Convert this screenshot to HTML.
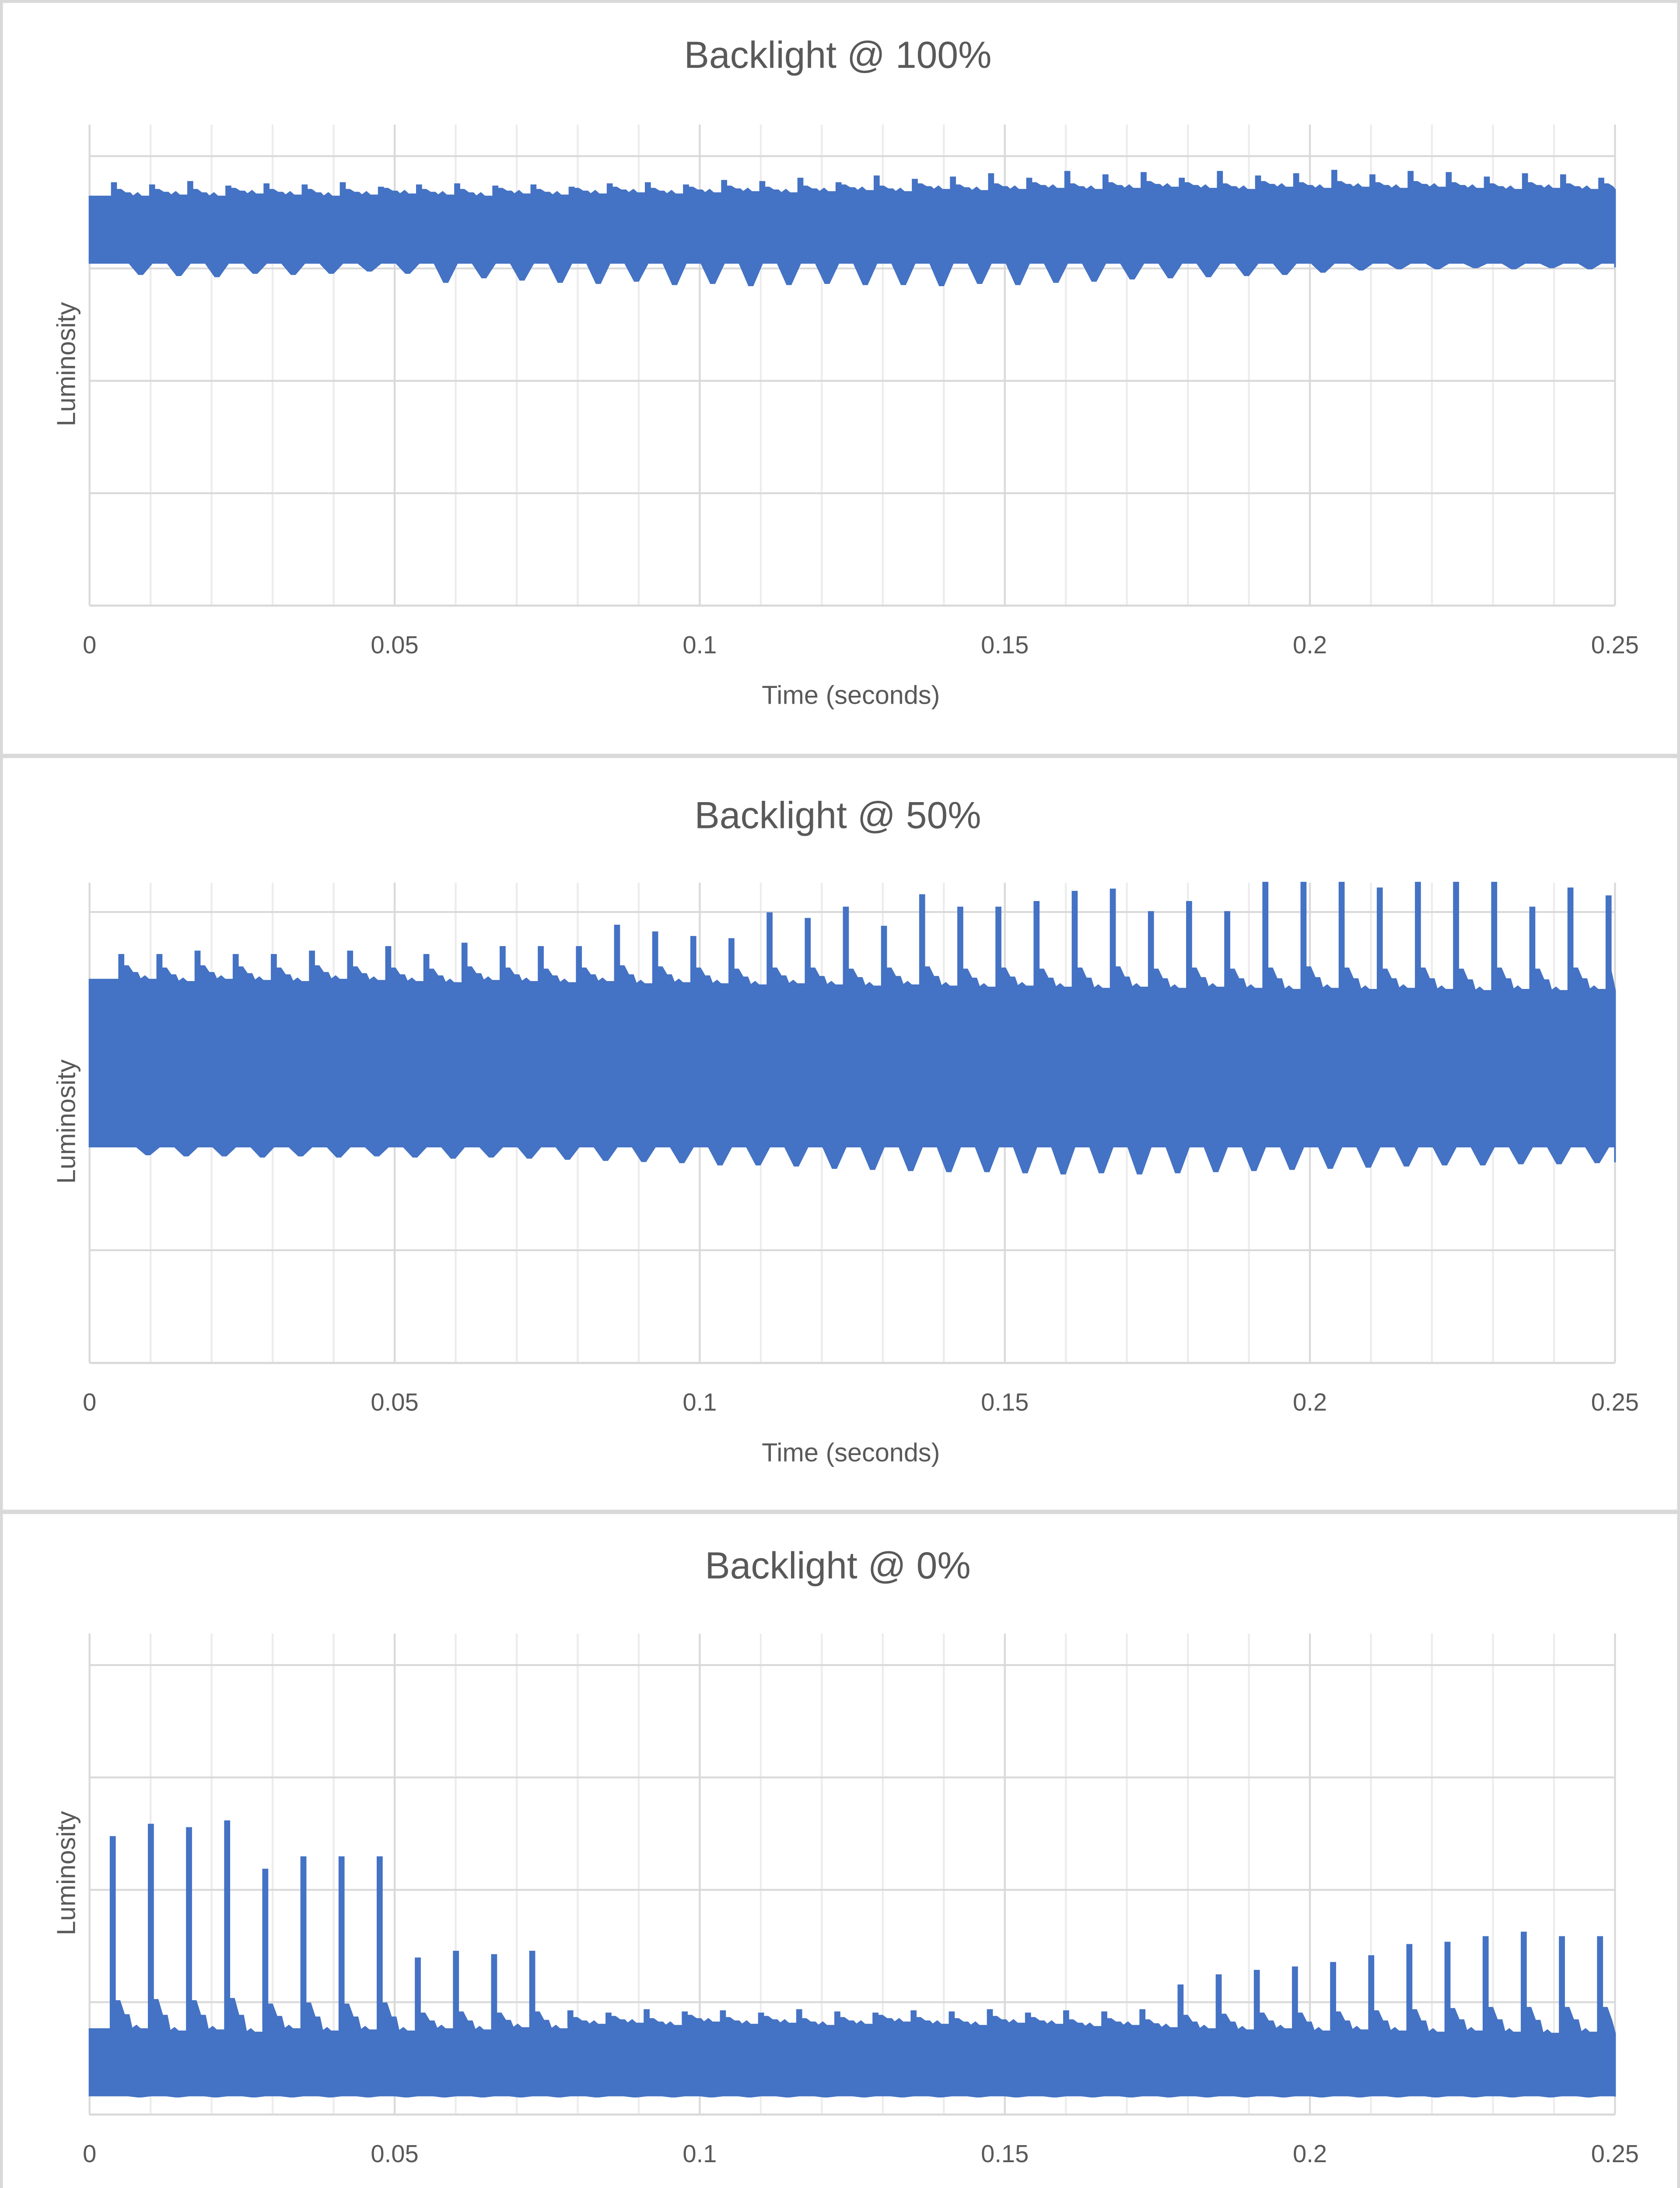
<!DOCTYPE html>
<html><head><meta charset="utf-8"><style>
html,body{margin:0;padding:0;background:#fff;width:3840px;height:5179px;overflow:hidden;}
svg{display:block;position:absolute;left:0;top:0;width:3840px;height:5179px;}
text{font-family:"Liberation Sans",sans-serif;fill:#595959;}
</style></head><body>
<svg id="chart" width="3840" height="5179" viewBox="0 0 1163 1568" preserveAspectRatio="none" xmlns="http://www.w3.org/2000/svg"></svg>
<script>
// shared timing (seconds)
const xTicks = [0, 0.05, 0.1, 0.15, 0.2, 0.25];
const xTickLabels = ["0", "0.05", "0.1", "0.15", "0.2", "0.25"];
const cyclePeriod = 0.00625;
const cycleCount = 40;

// Chart 1 : Backlight @ 100%
const phase1 = 0.004;
const base1 = 3.05;
const spike1 = [3.76,3.74,3.77,3.73,3.75,3.74,3.76,3.72,3.74,3.75,3.73,3.74,3.72,3.75,3.76,3.74,3.78,3.77,3.80,3.76,3.82,3.79,3.81,3.84,3.80,3.86,3.83,3.85,3.80,3.86,3.82,3.84,3.87,3.83,3.86,3.85,3.81,3.84,3.83,3.80];
const top1 = [3.64,3.65,3.64,3.66,3.65,3.64,3.65,3.66,3.65,3.64,3.66,3.65,3.66,3.67,3.66,3.67,3.68,3.67,3.68,3.69,3.68,3.70,3.69,3.70,3.71,3.70,3.71,3.72,3.71,3.70,3.72,3.71,3.72,3.71,3.72,3.71,3.70,3.71,3.70,3.70];
const hump1 = [3.70,3.70,3.70,3.71,3.70,3.70,3.70,3.71,3.70,3.70,3.71,3.70,3.71,3.72,3.71,3.72,3.73,3.72,3.73,3.74,3.73,3.75,3.74,3.75,3.76,3.75,3.76,3.77,3.76,3.75,3.77,3.76,3.77,3.76,3.77,3.76,3.75,3.76,3.75,3.75];
const dip1 = [2.95,2.94,2.93,2.96,2.95,2.96,2.98,2.96,2.88,2.92,2.90,2.88,2.87,2.89,2.86,2.87,2.85,2.86,2.87,2.86,2.86,2.85,2.87,2.86,2.88,2.89,2.91,2.92,2.93,2.94,2.95,2.97,2.99,3.00,3.00,3.01,3.00,3.01,3.00,3.01];

// Chart 2 : Backlight @ 50%
const phase2 = 0.0052;
const base2 = 1.92;
const spike2 = [3.62,3.62,3.65,3.62,3.62,3.65,3.65,3.69,3.62,3.72,3.69,3.69,3.69,3.88,3.82,3.78,3.76,3.99,3.94,4.04,3.87,4.15,4.04,4.04,4.09,4.18,4.20,4.00,4.09,4.00,4.26,4.26,4.26,4.21,4.26,4.26,4.26,4.04,4.21,4.14];
const top2 = [3.40,3.38,3.40,3.39,3.38,3.40,3.39,3.38,3.37,3.39,3.38,3.37,3.38,3.36,3.37,3.36,3.35,3.36,3.35,3.34,3.35,3.34,3.33,3.34,3.33,3.32,3.33,3.32,3.33,3.32,3.31,3.32,3.31,3.32,3.31,3.30,3.31,3.30,3.31,3.30];
const hump2 = [3.52,3.50,3.52,3.51,3.50,3.52,3.51,3.50,3.49,3.51,3.50,3.49,3.50,3.52,3.51,3.50,3.49,3.50,3.50,3.49,3.50,3.51,3.49,3.50,3.49,3.50,3.51,3.49,3.50,3.49,3.50,3.51,3.50,3.49,3.50,3.49,3.50,3.49,3.50,3.48];
const dip2 = [1.85,1.84,1.84,1.83,1.84,1.83,1.84,1.83,1.82,1.83,1.82,1.81,1.80,1.79,1.78,1.76,1.76,1.75,1.73,1.72,1.71,1.70,1.70,1.69,1.68,1.69,1.68,1.69,1.70,1.71,1.72,1.73,1.74,1.75,1.76,1.76,1.77,1.77,1.78,1.78];

// Chart 3 : Backlight @ 0%
const phase3 = 0.0038;
const base3 = 0.17;
const spike3 = [2.47,2.58,2.55,2.61,2.18,2.29,2.29,2.29,1.39,1.45,1.42,1.45,0.92,0.90,0.93,0.91,0.92,0.90,0.93,0.91,0.90,0.92,0.91,0.93,0.90,0.92,0.91,0.93,1.15,1.24,1.28,1.31,1.35,1.41,1.51,1.53,1.58,1.62,1.58,1.58];
const top3 = [0.76,0.74,0.75,0.73,0.76,0.74,0.75,0.74,0.76,0.75,0.77,0.76,0.80,0.81,0.79,0.82,0.80,0.81,0.79,0.80,0.82,0.80,0.79,0.81,0.80,0.78,0.79,0.77,0.76,0.75,0.76,0.74,0.75,0.74,0.73,0.74,0.73,0.72,0.73,0.72];
const hump3 = [1.01,1.02,1.01,1.03,0.98,0.99,0.98,0.99,0.90,0.91,0.90,0.91,0.86,0.87,0.85,0.88,0.86,0.87,0.85,0.86,0.88,0.86,0.85,0.87,0.86,0.84,0.85,0.84,0.88,0.89,0.90,0.90,0.91,0.92,0.93,0.94,0.95,0.95,0.95,0.95];
const dip3 = [0.16,0.16,0.16,0.16,0.16,0.16,0.16,0.16,0.16,0.16,0.16,0.16,0.16,0.16,0.16,0.16,0.16,0.16,0.16,0.16,0.16,0.16,0.16,0.16,0.16,0.16,0.16,0.16,0.16,0.16,0.16,0.16,0.16,0.16,0.16,0.16,0.16,0.16,0.16,0.16];

const NS = "http://www.w3.org/2000/svg";
const svg = document.getElementById('chart');
function mk(tag, attrs, parent) {
  const e = document.createElementNS(NS, tag);
  for (const k in attrs) e.setAttribute(k, attrs[k]);
  (parent || svg).appendChild(e);
  return e;
}
const frame = mk('g', {});


mk('rect', {x:1, y:1, width:1161, height:1566, fill:'none', stroke:'#d9d9d9', 'stroke-width':2}, frame);
mk('line', {x1:0, x2:1163, y1:523, y2:523, stroke:'#d9d9d9', 'stroke-width':3}, frame);
mk('line', {x1:0, x2:1163, y1:1046, y2:1046, stroke:'#d9d9d9', 'stroke-width':3}, frame);

const X0 = 62, X1 = 1118;
function xs(t) { return X0 + t / 0.25 * (X1 - X0); }

function drawChart(id, cfg, phase, base, spike, top, hump, dip) {
  const g = mk('g', {});
  
  
  const ys = v => cfg.axisY - v * cfg.unit;
  const ti = mk('text', {x:580, y:cfg.titleY, 'text-anchor':'middle', 'font-size':26}, g);
  ti.textContent = cfg.title;
  
  
  const gridTop = ys(cfg.maxV);
  for (let i = 1; i <= 25; i++) {
    const t = i * 0.01;
    const major = i % 5 === 0;
    const l = mk('line', {x1:xs(t), x2:xs(t), y1:gridTop, y2:cfg.axisY, stroke: major ? '#d9d9d9' : '#ececec', 'stroke-width':1.3}, g);
    
    
  }
  for (let v = 1; v <= 4; v++) {
    const l = mk('line', {x1:X0, x2:X1, y1:ys(v), y2:ys(v), stroke:'#d9d9d9', 'stroke-width':1.3}, g);
    
    
  }
  const yAxis = mk('line', {x1:X0, x2:X0, y1:gridTop, y2:cfg.axisY, stroke:'#d9d9d9', 'stroke-width':1.3}, g);
  
  
  const xAxis = mk('line', {x1:X0, x2:X1, y1:cfg.axisY, y2:cfg.axisY, stroke:'#d9d9d9', 'stroke-width':1.5}, g);
  
  
  xTicks.forEach((t, i) => {
    const tx = mk('text', {x:xs(t), y:cfg.axisY + 33, 'text-anchor':'middle', 'font-size':17}, g);
    tx.textContent = xTickLabels[i];
    
    
  });
  const xt = mk('text', {x:589, y:cfg.axisY + 68, 'text-anchor':'middle', 'font-size':18}, g);
  xt.textContent = 'Time (seconds)';
  
  
  const yt = mk('text', {x:0, y:0, 'text-anchor':'middle', 'font-size':18, transform:`translate(52,${cfg.yTitleY}) rotate(-90)`}, g);
  yt.textContent = 'Luminosity';
  
  

  const P = cyclePeriod, e = 0.00035;
  const clamp = t => Math.max(0, Math.min(0.25, t));
  const upper = [[0, top[0]]];
  const lower = [[0, base]];
  for (let k = 0; k < cycleCount; k++) {
    const tk = phase + k * P;
    upper.push([tk - e, top[k]], [tk - e, spike[k]], [tk + e, spike[k]], [tk + e, hump[k]],
               [tk + 0.18 * P, hump[k]], [tk + 0.3 * P, (hump[k] + top[k]) / 2],
               [tk + 0.42 * P, top[k] + 0.5 * (hump[k] - top[k])], [tk + 0.5 * P, top[k]],
               [tk + 0.62 * P, top[k] + 0.03], [tk + 0.72 * P, top[k]], [tk + 0.95 * P, top[k]]);
    const dc = tk + 0.7 * P;
    lower.push([dc - 0.3 * P, base], [dc - 0.05 * P, dip[k]], [dc + 0.05 * P, dip[k]], [dc + 0.3 * P, base]);
  }
  upper.push([0.25, top[cycleCount - 1]]);
  lower.push([0.25, base]);
  const up = upper.filter(p => p[0] >= 0 && p[0] <= 0.25).map(p => [clamp(p[0]), p[1]]);
  const lo = lower.map(p => [clamp(p[0]), p[1]]).sort((a, b) => a[0] - b[0]);
  let d = 'M' + up.map(p => xs(p[0]).toFixed(2) + ',' + ys(p[1]).toFixed(2)).join('L');
  d += 'L' + lo.reverse().map(p => xs(p[0]).toFixed(2) + ',' + ys(p[1]).toFixed(2)).join('L') + 'Z';
  const path = mk('path', {d: d, fill:'#4472c4', stroke:'#4472c4', 'stroke-width':1.2, 'stroke-linejoin':'miter'}, g);
  
  
}

drawChart('chart-backlight-100', {title:'Backlight @ 100%', titleY:47, axisY:419, unit:77.75, maxV:4.28, yTitleY:252}, phase1, base1, spike1, top1, hump1, dip1);
drawChart('chart-backlight-50', {title:'Backlight @ 50%', titleY:573, axisY:943, unit:78, maxV:4.26, yTitleY:776}, phase2, base2, spike2, top2, hump2, dip2);
drawChart('chart-backlight-0', {title:'Backlight @ 0%', titleY:1092, axisY:1463, unit:77.75, maxV:4.28, yTitleY:1296}, phase3, base3, spike3, top3, hump3, dip3);
</script>
</body></html>
